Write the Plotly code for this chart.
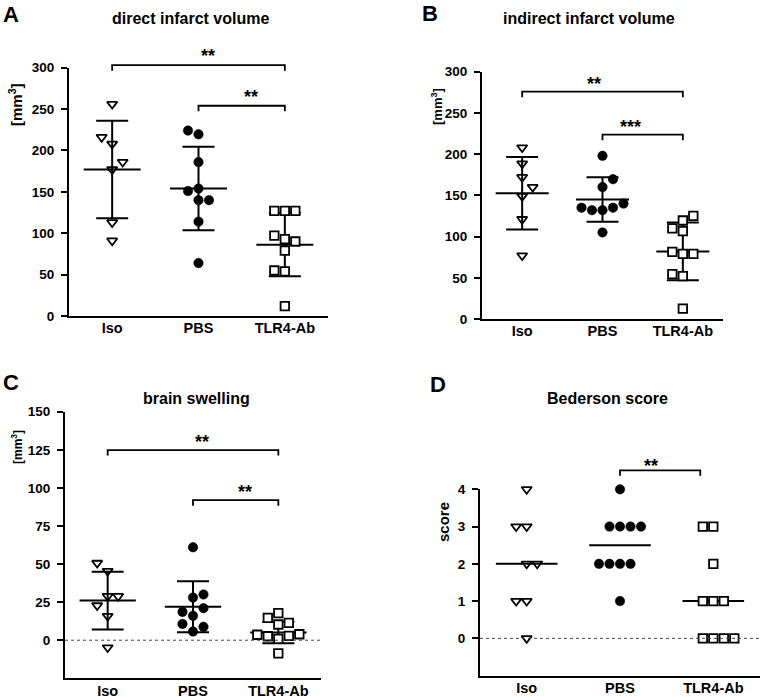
import plotly.graph_objects as go

W, H = 763, 697

groups = ["Iso", "PBS", "TLR4-Ab"]

# A - direct infarct volume [mm3]
a_iso = [256, 208, 216, 177, 186, 113, 91]
a_pbs = [219.5, 224, 154, 140, 140, 151, 186, 114, 64]
a_tlr4 = [127, 127, 127, 93, 97, 90, 79, 54, 55, 12]
a_mean = [177, 154, 86]
a_sd = [59, 50.5, 38]

# B - indirect infarct volume [mm3]
b_iso = [208, 188.5, 172, 149, 160, 121, 77]
b_pbs = [160, 169.6, 132, 132, 135, 135, 140, 198, 105]
b_tlr4 = [119.5, 106.5, 125, 110, 79, 79, 52, 54.5, 81.5, 12.5]
b_mean = [152.6, 145, 82]
b_sd = [44, 27, 35]

# C - brain swelling [mm3]
c_iso = [45.4, 50.7, 28.9, 28.9, 22.8, 15.8, -4.8]
c_pbs = [28, 16, 5.7, 61, 30, 18.6, 21, 10.7, 8.8]
c_tlr4 = [17.8, 10.3, 14.7, 11.4, 0.9, 2.6, 2.9, 3.6, 3.9, -8.6]
c_mean = [26, 22, 5]
c_sd = [19, 16.7, 7]

# D - Bederson score
d_iso = [4, 3, 3, 2, 2, 1, 1, 0]
d_pbs = [2, 2, 2, 2, 3, 3, 3, 3, 1, 4]
d_tlr4 = [3, 3, 2, 1, 1, 1, 0, 0, 0, 0]
d_median = [2, 2.5, 1]

FONT = "Arial, Liberation Sans, sans-serif"

# panel layout in pixels: axis box left/right/top/bottom
panels = [
    dict(name="A", title="direct infarct volume", ytitle="[mm<sup>3</sup>]",
         box=(69, 328, 67.7, 316), yr=(0, 300), ticks=list(range(0, 301, 50)),
         data=[a_iso, a_pbs, a_tlr4], mean=a_mean, sd=a_sd, start=[-1, -1, -1],
         brackets=[(0, 2, 303, "**", 317.5), (1, 2, 254, "**", 268)],
         letter=(11, 14), tpos=(190, 19), ypos=(15, 105), ysize=15, zero=False),
    dict(name="B", title="indirect infarct volume", ytitle="[mm<sup>3</sup>]",
         box=(482, 723, 71.7, 319), yr=(0, 300), ticks=list(range(0, 301, 50)),
         data=[b_iso, b_pbs, b_tlr4], mean=b_mean, sd=b_sd, start=[1, 1, 1],
         brackets=[(0, 2, 275.8, "**", 288.7), (1, 2, 223.6, "***", 236.6)],
         letter=(430, 13), tpos=(589, 19), ypos=(437, 107), ysize=13, zero=False),
    dict(name="C", title="brain swelling", ytitle="[mm<sup>3</sup>]",
         box=(65, 321, 411.7, 678.3), yr=(-25, 150), ticks=list(range(0, 151, 25)),
         data=[c_iso, c_pbs, c_tlr4], mean=c_mean, sd=c_sd, start=[-1, 1, -1],
         brackets=[(0, 2, 124.8, "**", 131.8), (1, 2, 91.9, "**", 99)],
         letter=(11, 383), tpos=(196, 398), ypos=(17, 447), ysize=12, zero=True),
    dict(name="D", title="Bederson score", ytitle="score",
         box=(480, 760, 489.3, 675.6), yr=(-1, 4), ticks=[0, 1, 2, 3, 4],
         data=[d_iso, d_pbs, d_tlr4], mean=d_median, sd=None, start=[-1, -1, -1],
         brackets=[(1, 1.86, 4.51, "**", 4.70)],
         letter=(438, 384), tpos=(607, 398), ypos=(443, 522), ysize=15, zero=True),
]

symbols = [
    dict(symbol="triangle-down-open", size=9, color="black", line=dict(width=1.8, color="black")),
    dict(symbol="circle", size=9.5, color="black", line=dict(width=0.5, color="black")),
    dict(symbol="square", size=8.5, color="white", line=dict(width=1.8, color="black")),
]


def swarm(values, start, ppu, hit=10):
    # spread points that would overlap sideways, column by column
    placed = []
    cols = []
    side = start
    for v in values:
        y = v * ppu

        def free(c):
            return all(abs(y - yy) >= hit for cc, yy in placed if cc == c)

        if free(0):
            col = 0
        else:
            col = None
            k = 1
            while col is None:
                for c in (side * k, -side * k):
                    if free(c):
                        col = c
                        break
                k += 1
            side = -1 if col > 0 else 1
        placed.append((col, y))
        cols.append(col)
    return cols


def px(x, y):
    return x / W, 1 - y / H


fig = go.Figure()
annotations = []
shapes = []
ytick_font = dict(family=FONT, size=13.5, color="black", weight="bold")
xtick_font = dict(family=FONT, size=14.5, color="black", weight="bold")
star_font = dict(family=FONT, size=18, color="black", weight="bold")

for i, p in enumerate(panels):
    n = "" if i == 0 else str(i + 1)
    xa, ya = "x" + n, "y" + n
    x0, x1, yt, yb = p["box"]
    ppu = (yb - yt) / (p["yr"][1] - p["yr"][0])
    ppc = (x1 - x0) / 3
    step = 10.5 / ppc

    # data -> pixel, for things drawn above the axes
    def to_px(g, v):
        return x0 + (g + 0.5) * ppc, yt + (p["yr"][1] - v) * ppu

    fig.layout["xaxis" + n] = dict(
        domain=[x0 / W, x1 / W], range=[-0.5, 2.5], anchor=ya,
        tickvals=[0, 1, 2], ticktext=groups, ticks="", ticklen=0, showline=True,
        linewidth=2, linecolor="black", showgrid=False, zeroline=False,
        tickfont=xtick_font, ticklabelstandoff=-2, fixedrange=True, automargin=False)
    fig.layout["yaxis" + n] = dict(
        domain=[1 - yb / H, 1 - yt / H], range=list(p["yr"]), anchor=xa,
        tickvals=p["ticks"], ticks="outside", ticklen=6, tickwidth=2,
        tickcolor="black", showline=True, linewidth=2, linecolor="black",
        showgrid=False, zeroline=False, tickfont=ytick_font,
        ticklabelstandoff=4, fixedrange=True, automargin=False)

    if p["zero"]:
        shapes.append(dict(type="line", xref=xa + " domain", yref=ya,
                           x0=0, x1=1, y0=0, y1=0,
                           line=dict(color="#444", width=1, dash="dot")))

    # mean / median lines
    lx, ly = [], []
    for g, m in enumerate(p["mean"]):
        lx += [g - 0.33, g + 0.33, None]
        ly += [m, m, None]
    fig.add_trace(go.Scatter(x=lx, y=ly, mode="lines", xaxis=xa, yaxis=ya,
                             line=dict(color="black", width=2), hoverinfo="skip"))
    if p["sd"] is not None:
        fig.add_trace(go.Scatter(
            x=[0, 1, 2], y=p["mean"], mode="markers", xaxis=xa, yaxis=ya,
            marker=dict(opacity=0), hoverinfo="skip",
            error_y=dict(type="data", array=p["sd"], width=16, thickness=2, color="black")))

    for g, vals in enumerate(p["data"]):
        cols = swarm(vals, p["start"][g], ppu)
        fig.add_trace(go.Scatter(
            x=[g + c * step for c in cols], y=vals, mode="markers",
            xaxis=xa, yaxis=ya, marker=symbols[g], cliponaxis=False))

    # significance brackets (paper coords so they may sit above the axis range)
    for g0, g1, h, label, ys in p["brackets"]:
        bx0, by = to_px(g0, h)
        bx1, _ = to_px(g1, h)
        tip = by + 5.5
        pts = [px(bx0, tip), px(bx0, by), px(bx1, by), px(bx1, tip)]
        path = "M " + " L ".join(f"{a:.5f},{b:.5f}" for a, b in pts)
        shapes.append(dict(type="path", xref="paper", yref="paper", path=path,
                           line=dict(color="black", width=1.8)))
        sx, sy = to_px((g0 + g1) / 2, ys)
        sx, sy = px(sx, sy)
        annotations.append(dict(x=sx, y=sy, xref="paper", yref="paper", text=label,
                                showarrow=False, yanchor="middle", yshift=-3,
                                font=star_font))

    lx_, ly_ = px(*p["letter"])
    annotations.append(dict(x=lx_, y=ly_, xref="paper", yref="paper", text=p["name"],
                            showarrow=False, xanchor="center", yanchor="middle",
                            font=dict(family=FONT, size=22, color="black", weight="bold")))
    tx, ty = px(*p["tpos"])
    annotations.append(dict(x=tx, y=ty, xref="paper", yref="paper", text=p["title"],
                            showarrow=False, xanchor="center", yanchor="middle",
                            font=dict(family=FONT, size=16, color="black", weight="bold")))
    yx, yy = px(*p["ypos"])
    annotations.append(dict(x=yx, y=yy, xref="paper", yref="paper", text=p["ytitle"],
                            showarrow=False, textangle=-90, xanchor="center", yanchor="middle",
                            font=dict(family=FONT, size=p["ysize"], color="black", weight="bold")))

fig.update_layout(
    width=W, height=H, autosize=False,
    margin=dict(l=0, r=0, t=0, b=0, autoexpand=False),
    paper_bgcolor="white", plot_bgcolor="rgba(0,0,0,0)",
    showlegend=False, annotations=annotations, shapes=shapes,
)

# the page body has a default 8px margin; drop it so the figure fills the window
fig.write_html("out.html", config={"displayModeBar": False},
               post_script="document.body.style.margin = '0';")
